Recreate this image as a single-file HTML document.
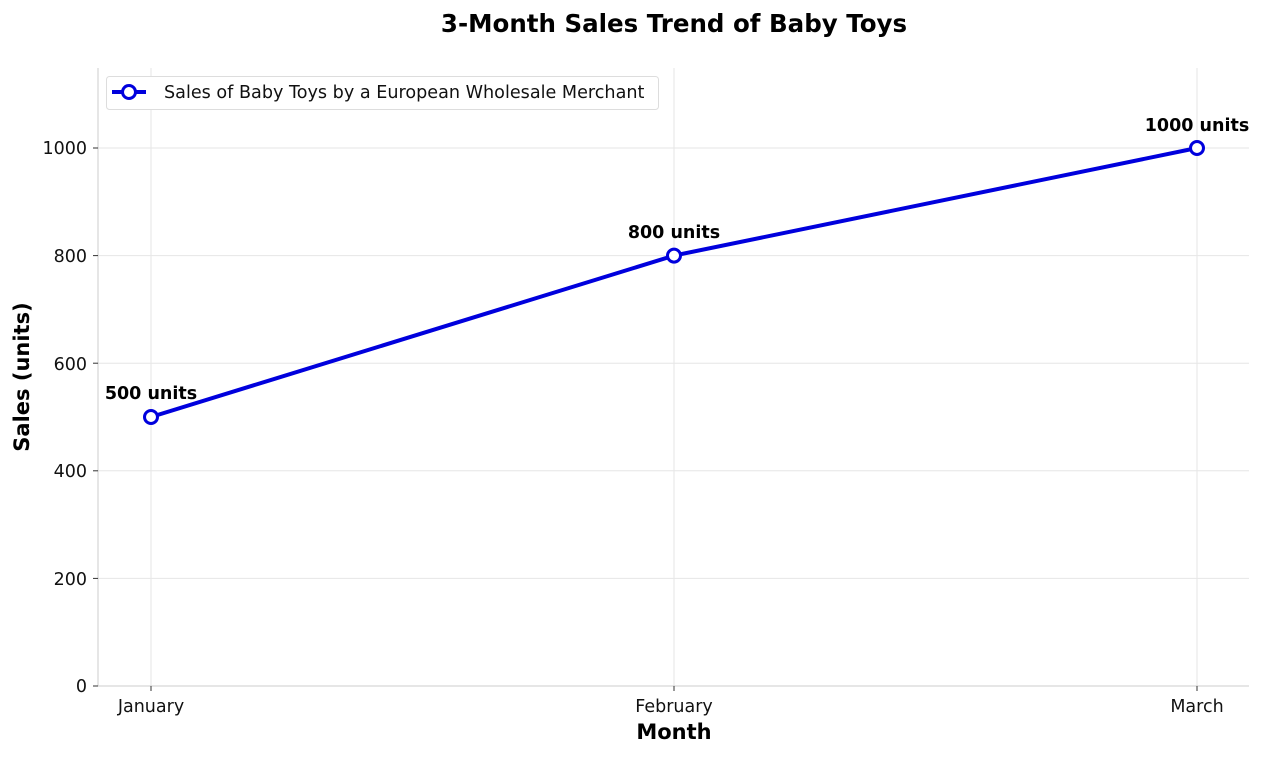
<!DOCTYPE html>
<html><head><meta charset="utf-8"><style>html,body{margin:0;padding:0;background:#fff}svg{display:block}</style></head>
<body>
<svg width="1265" height="760" xmlns="http://www.w3.org/2000/svg" font-family="DejaVu Sans, Liberation Sans, sans-serif">
<rect width="1265" height="760" fill="#fff"/>
<text x="674" y="32" text-anchor="middle" font-size="24.5" font-weight="bold">3-Month Sales Trend of Baby Toys</text>
<g stroke="#e6e6e6" stroke-width="1">
<line x1="98" x2="1249" y1="578.4" y2="578.4"/>
<line x1="98" x2="1249" y1="470.8" y2="470.8"/>
<line x1="98" x2="1249" y1="363.2" y2="363.2"/>
<line x1="98" x2="1249" y1="255.6" y2="255.6"/>
<line x1="98" x2="1249" y1="148" y2="148"/>
<line x1="151" x2="151" y1="68" y2="686"/>
<line x1="674" x2="674" y1="68" y2="686"/>
<line x1="1197" x2="1197" y1="68" y2="686"/>
</g>
<line x1="98" x2="98" y1="68" y2="686" stroke="#ccc"/>
<line x1="98" x2="1249" y1="686" y2="686" stroke="#ccc"/>
<g stroke="#333">
<line x1="93" x2="98" y1="686" y2="686"/><line x1="93" x2="98" y1="578.4" y2="578.4"/><line x1="93" x2="98" y1="470.8" y2="470.8"/><line x1="93" x2="98" y1="363.2" y2="363.2"/><line x1="93" x2="98" y1="255.6" y2="255.6"/><line x1="93" x2="98" y1="148" y2="148"/>
<line x1="151" x2="151" y1="686" y2="691"/><line x1="674" x2="674" y1="686" y2="691"/><line x1="1197" x2="1197" y1="686" y2="691"/>
</g>
<g font-size="17.5" text-anchor="end" fill="#111">
<text x="87" y="692">0</text><text x="87" y="585">200</text><text x="87" y="477">400</text><text x="87" y="370">600</text><text x="87" y="262">800</text><text x="87" y="154">1000</text>
</g>
<g font-size="17.5" text-anchor="middle" fill="#111">
<text x="151" y="712">January</text><text x="674" y="712">February</text><text x="1197" y="712">March</text>
</g>
<text x="674" y="739" text-anchor="middle" font-size="21" font-weight="bold">Month</text>
<text transform="translate(29,377) rotate(-90)" text-anchor="middle" font-size="21" font-weight="bold">Sales (units)</text>
<polyline points="151,417 674,255.6 1197,148" fill="none" stroke="#0000dd" stroke-width="4"/>
<g fill="#fff" stroke="#0000dd" stroke-width="3">
<circle cx="151" cy="417" r="6.5"/><circle cx="674" cy="255.6" r="6.5"/><circle cx="1197" cy="148" r="6.5"/>
</g>
<g font-size="17.5" font-weight="bold" text-anchor="middle">
<text x="151" y="399">500 units</text><text x="674" y="238">800 units</text><text x="1197" y="131">1000 units</text>
</g>
<rect x="106.5" y="76.5" width="552" height="33" rx="3" fill="#fff" stroke="#ddd"/>
<line x1="112" x2="146" y1="92" y2="92" stroke="#0000dd" stroke-width="4"/>
<circle cx="129" cy="92" r="6.5" fill="#fff" stroke="#0000dd" stroke-width="3"/>
<text x="164" y="98" font-size="17.6" fill="#111">Sales of Baby Toys by a European Wholesale Merchant</text>
</svg>
</body></html>
